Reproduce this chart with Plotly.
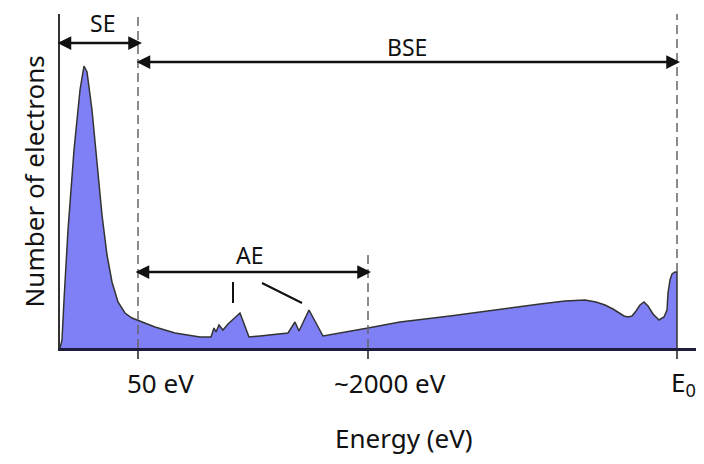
import plotly.graph_objects as go

# Spectrum outline (arbitrary energy units along the drawn axis, arbitrary counts)
energy = [0, 2, 4, 8, 14, 20, 24, 27, 32, 37, 42, 47, 52, 58, 65, 72, 80, 95, 115, 140,
          151, 154, 156, 159, 163, 168, 180, 189, 200, 228, 235, 239, 249, 263, 308, 340,
          390, 440, 480, 505, 525, 536, 545, 553, 559, 564, 568, 572, 576, 580, 584, 588,
          593, 599, 604, 607, 608, 610, 612, 615, 617, 617]
counts = [0, 8, 48, 118, 198, 258, 282, 276, 238, 188, 133, 93, 66, 46, 35, 30, 27, 21, 15, 11,
          11, 20, 16, 23, 18, 24, 35, 11, 12, 15, 26, 17, 38, 12, 20, 26,
          32, 39, 44, 47, 48, 46, 43, 39, 35, 32, 31, 32, 37, 43, 46, 42,
          34, 28, 31, 38, 55, 68, 74, 76, 76, 0]

# Reference energies on the axis
tick_pos = [78, 308, 617]
tick_labels = ["50 eV", "~2000 eV", "E<sub>0</sub>"]

# Range arrows: label, start, end, height, label position
range_labels = ["SE", "BSE", "AE"]
range_start = [-4, 75, 74]
range_end = [82, 620, 311]
range_y = [305, 286, 76]
label_x = [42, 347, 190]
label_y = [325, 301, 93]

FILL = "#7f7ff6"
FONT = "Noto Sans"

fig = go.Figure()
fig.add_trace(go.Scatter(
    x=energy, y=counts, mode="lines", fill="tozeroy",
    fillcolor=FILL, line=dict(color="#333333", width=1.5),
    hoverinfo="skip", showlegend=False,
))

shapes = []
# dashed guide lines
shapes.append(dict(type="line", x0=tick_pos[0], x1=tick_pos[0], y0=0, y1=334,
                   line=dict(color="#666666", width=1.5, dash="9px,5px"), layer="above"))
shapes.append(dict(type="line", x0=tick_pos[1], x1=tick_pos[1], y0=0, y1=98,
                   line=dict(color="#666666", width=1.5, dash="9px,5px"), layer="above"))
shapes.append(dict(type="line", x0=tick_pos[2], x1=tick_pos[2], y0=76, y1=334,
                   line=dict(color="#666666", width=1.5, dash="9px,5px"), layer="above"))
# Auger peak pointers
shapes.append(dict(type="line", x0=173, x1=173, y0=45, y1=66,
                   line=dict(color="#111111", width=2)))
shapes.append(dict(type="line", x0=202, x1=242, y0=65, y1=45,
                   line=dict(color="#111111", width=2)))

annotations = []
for lab, s, e, yy, lx, ly in zip(range_labels, range_start, range_end, range_y, label_x, label_y):
    annotations.append(dict(
        x=e, y=yy, ax=s, ay=yy, xref="x", yref="y", axref="x", ayref="y",
        text="", showarrow=True, arrowside="end+start",
        arrowhead=2, startarrowhead=2, arrowsize=1.1, startarrowsize=1.1,
        arrowwidth=2.5, arrowcolor="#111111", standoff=0, startstandoff=0,
    ))
    annotations.append(dict(
        x=lx, y=ly, xref="x", yref="y", text=lab, showarrow=False,
        font=dict(family=FONT, size=23, color="#111111"),
        xanchor="center", yanchor="middle",
    ))

tick_shift = [22, 22, 6]
for p, t, sh in zip(tick_pos, tick_labels, tick_shift):
    annotations.append(dict(
        x=p, y=-0.105, xref="x", yref="paper", text=t, showarrow=False,
        xshift=sh, font=dict(family=FONT, size=26, color="#111111"),
        xanchor="center", yanchor="middle",
    ))

annotations.append(dict(
    x=0.538, y=-0.27, xref="paper", yref="paper", text="Energy (eV)", showarrow=False,
    font=dict(family=FONT, size=26, color="#111111"), xanchor="center", yanchor="middle",
))
annotations.append(dict(
    x=-0.04, y=0.5, xref="paper", yref="paper", text="Number of electrons", showarrow=False,
    textangle=-90, font=dict(family=FONT, size=26, color="#111111"),
    xanchor="center", yanchor="middle",
))

# page body adds an 8px offset; margins compensate so the plot sits where the reference has it
fig.update_layout(
    width=704, height=464,
    margin=dict(l=52, r=12, t=6, b=124),
    paper_bgcolor="white", plot_bgcolor="white",
    shapes=shapes, annotations=annotations,
    xaxis=dict(range=[0, 640], showgrid=False, zeroline=False, showline=True,
               linecolor="#1e1e3c", linewidth=3, tickmode="array", tickvals=tick_pos,
               ticks="outside", ticklen=8, tickwidth=1.5, tickcolor="#555555",
               showticklabels=False, fixedrange=True),
    yaxis=dict(range=[0, 334], showgrid=False, zeroline=False, showline=True,
               linecolor="#333333", linewidth=2, ticks="", showticklabels=False,
               fixedrange=True),
)

fig.write_html("out.html")
